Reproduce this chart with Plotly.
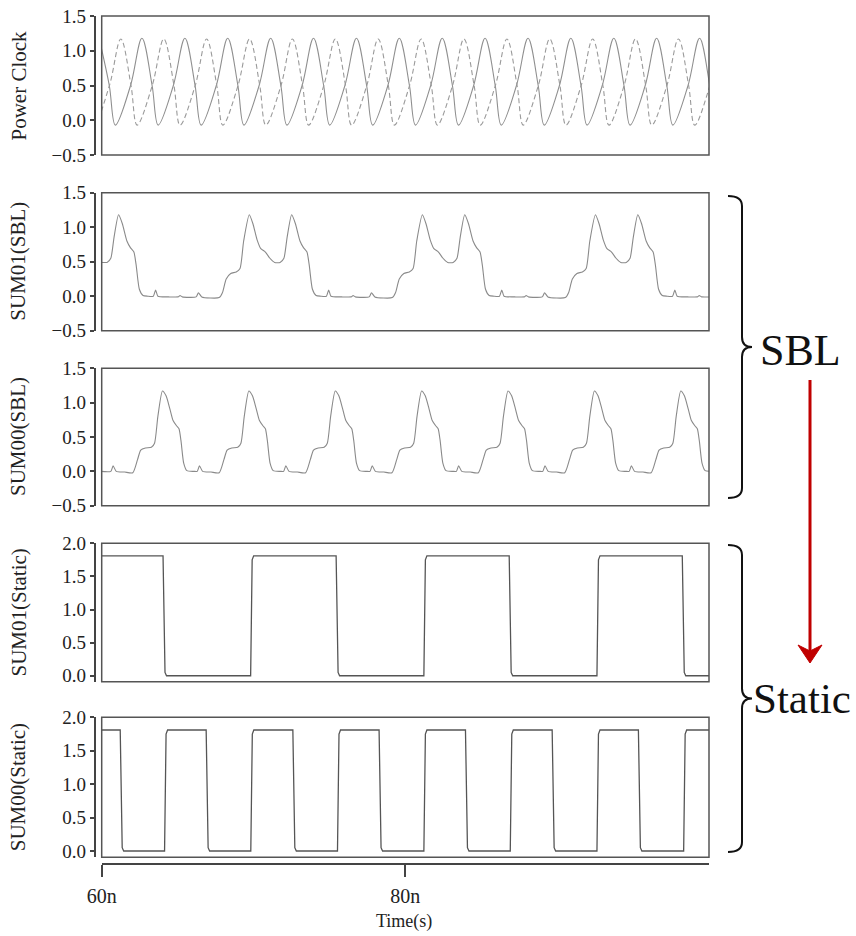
import plotly.graph_objects as go

# ---------------- data ----------------
X_TICK_VALS = [60, 80]
X_TICK_TEXT = ["60n", "80n"]
Y_TITLES = ["Power Clock", "SUM01(SBL)", "SUM00(SBL)", "SUM01(Static)", "SUM00(Static)"]

CLK_SOLID_T = [59.83, 60.50, 60.90, 61.90, 62.65, 63.32, 63.72, 64.72, 65.48, 66.15, 66.55, 67.55,
               68.30, 68.97, 69.37, 70.37, 71.13, 71.80, 72.20, 73.20, 73.95, 74.62, 75.02, 76.02,
               76.78, 77.45, 77.85, 78.85, 79.60, 80.27, 80.67, 81.67, 82.43, 83.10, 83.50, 84.50,
               85.25, 85.92, 86.32, 87.32, 88.08, 88.75, 89.15, 90.15, 90.90, 91.57, 91.97, 92.97,
               93.73, 94.40, 94.80, 95.80, 96.55, 97.22, 97.62, 98.62, 99.38, 100.05, 100.45]
CLK_SOLID_V = [1.18, 0.50, -0.07, 0.50, 1.18, 0.50, -0.07, 0.50, 1.18, 0.50, -0.07, 0.50,
               1.18, 0.50, -0.07, 0.50, 1.18, 0.50, -0.07, 0.50, 1.18, 0.50, -0.07, 0.50,
               1.18, 0.50, -0.07, 0.50, 1.18, 0.50, -0.07, 0.50, 1.18, 0.50, -0.07, 0.50,
               1.18, 0.50, -0.07, 0.50, 1.18, 0.50, -0.07, 0.50, 1.18, 0.50, -0.07, 0.50,
               1.18, 0.50, -0.07, 0.50, 1.18, 0.50, -0.07, 0.50, 1.18, 0.50, -0.07]

CLK_DASH_T = [58.44, 59.11, 59.51, 60.51, 61.26, 61.93, 62.33, 63.33, 64.09, 64.76, 65.16, 66.16,
              66.91, 67.58, 67.98, 68.98, 69.74, 70.41, 70.81, 71.81, 72.56, 73.23, 73.63, 74.63,
              75.39, 76.06, 76.46, 77.46, 78.21, 78.88, 79.28, 80.28, 81.04, 81.71, 82.11, 83.11,
              83.86, 84.53, 84.93, 85.93, 86.69, 87.36, 87.76, 88.76, 89.51, 90.18, 90.58, 91.58,
              92.34, 93.01, 93.41, 94.41, 95.16, 95.83, 96.23, 97.23, 97.99, 98.66, 99.06, 100.06,
              100.82]
CLK_DASH_V = [1.17, 0.50, -0.07, 0.50, 1.17, 0.50, -0.07, 0.50, 1.17, 0.50, -0.07, 0.50,
              1.17, 0.50, -0.07, 0.50, 1.17, 0.50, -0.07, 0.50, 1.17, 0.50, -0.07, 0.50,
              1.17, 0.50, -0.07, 0.50, 1.17, 0.50, -0.07, 0.50, 1.17, 0.50, -0.07, 0.50,
              1.17, 0.50, -0.07, 0.50, 1.17, 0.50, -0.07, 0.50, 1.17, 0.50, -0.07, 0.50,
              1.17, 0.50, -0.07, 0.50, 1.17, 0.50, -0.07, 0.50, 1.17, 0.50, -0.07, 0.50,
              1.17]

SUM01_SBL_T = [59.68, 59.99, 60.35, 60.60, 60.81, 61.11, 61.36, 61.66, 61.90, 62.12, 62.27, 62.48,
               62.72, 63.03, 63.40, 63.55, 63.70, 64.40, 65.04, 65.16, 65.31, 66.22, 66.37, 66.59,
               67.74, 67.95, 68.20, 68.50, 68.86, 69.11, 69.35, 69.72, 69.96, 70.23, 70.48, 70.78,
               71.08, 71.39, 71.75, 72.00, 72.21, 72.51, 72.76, 73.06, 73.30, 73.52, 73.67, 73.88,
               74.12, 74.43, 74.80, 74.95, 75.10, 75.80, 76.44, 76.56, 76.71, 77.62, 77.77, 77.99,
               79.14, 79.35, 79.60, 79.90, 80.26, 80.51, 80.75, 81.12, 81.36, 81.63, 81.88, 82.18,
               82.48, 82.79, 83.15, 83.40, 83.61, 83.91, 84.16, 84.46, 84.70, 84.92, 85.07, 85.28,
               85.52, 85.83, 86.20, 86.35, 86.50, 87.20, 87.84, 87.96, 88.11, 89.02, 89.17, 89.39,
               90.54, 90.75, 91.00, 91.30, 91.66, 91.91, 92.15, 92.52, 92.76, 93.03, 93.28, 93.58,
               93.88, 94.19, 94.55, 94.80, 95.01, 95.31, 95.56, 95.86, 96.10, 96.32, 96.47, 96.68,
               96.92, 97.23, 97.60, 97.75, 97.90, 98.60, 99.24, 99.36, 99.51, 100.20]
SUM01_SBL_V = [0.49, 0.49, 0.49, 0.55, 0.85, 1.18, 1.05, 0.80, 0.70, 0.64, 0.45, 0.10,
               0.01, 0.00, 0.00, 0.09, 0.00, -0.01, -0.01, 0.01, -0.01, -0.01, 0.05, -0.01,
               -0.02, 0.05, 0.25, 0.33, 0.35, 0.40, 0.80, 1.18, 1.05, 0.82, 0.69, 0.64,
               0.55, 0.49, 0.49, 0.55, 0.85, 1.18, 1.05, 0.80, 0.70, 0.64, 0.45, 0.10,
               0.01, 0.00, 0.00, 0.09, 0.00, -0.01, -0.01, 0.01, -0.01, -0.01, 0.05, -0.01,
               -0.02, 0.05, 0.25, 0.33, 0.35, 0.40, 0.80, 1.18, 1.05, 0.82, 0.69, 0.64,
               0.55, 0.49, 0.49, 0.55, 0.85, 1.18, 1.05, 0.80, 0.70, 0.64, 0.45, 0.10,
               0.01, 0.00, 0.00, 0.09, 0.00, -0.01, -0.01, 0.01, -0.01, -0.01, 0.05, -0.01,
               -0.02, 0.05, 0.25, 0.33, 0.35, 0.40, 0.80, 1.18, 1.05, 0.82, 0.69, 0.64,
               0.55, 0.49, 0.49, 0.55, 0.85, 1.18, 1.05, 0.80, 0.70, 0.64, 0.45, 0.10,
               0.01, 0.00, 0.00, 0.09, 0.00, -0.01, -0.01, 0.01, -0.01, -0.01]

SUM00_SBL_T = [59.90,
               60.60, 60.75, 60.96, 61.51, 62.05, 62.36, 62.57, 62.88, 63.27, 63.48, 63.70,
               64.00, 64.24, 64.49, 64.70, 64.94, 65.09, 65.22, 65.40, 65.61, 66.07,
               66.29, 66.44, 66.65, 67.20, 67.74, 68.05, 68.26, 68.57, 68.96, 69.17, 69.39,
               69.69, 69.93, 70.18, 70.39, 70.63, 70.78, 70.91, 71.09, 71.30, 71.76,
               71.98, 72.13, 72.34, 72.89, 73.43, 73.74, 73.95, 74.26, 74.65, 74.86, 75.08,
               75.38, 75.62, 75.87, 76.08, 76.32, 76.47, 76.60, 76.78, 76.99, 77.45,
               77.67, 77.82, 78.03, 78.58, 79.12, 79.43, 79.64, 79.95, 80.34, 80.55, 80.77,
               81.07, 81.31, 81.56, 81.77, 82.01, 82.16, 82.29, 82.47, 82.68, 83.14,
               83.36, 83.51, 83.72, 84.27, 84.81, 85.12, 85.33, 85.64, 86.03, 86.24, 86.46,
               86.76, 87.00, 87.25, 87.46, 87.70, 87.85, 87.98, 88.16, 88.37, 88.83,
               89.05, 89.20, 89.41, 89.96, 90.50, 90.81, 91.02, 91.33, 91.72, 91.93, 92.15,
               92.45, 92.69, 92.94, 93.15, 93.39, 93.54, 93.67, 93.85, 94.06, 94.52,
               94.74, 94.89, 95.10, 95.65, 96.19, 96.50, 96.71, 97.02, 97.41, 97.62, 97.84,
               98.14, 98.38, 98.63, 98.84, 99.08, 99.23, 99.36, 99.54, 99.75, 100.21]
SUM00_SBL_V = [0.00,
               0.00, 0.08, 0.00, -0.01, -0.02, 0.17, 0.31, 0.34, 0.35, 0.41, 0.80,
               1.17, 1.10, 0.91, 0.74, 0.66, 0.62, 0.45, 0.12, 0.01, 0.00,
               0.00, 0.08, 0.00, -0.01, -0.02, 0.17, 0.31, 0.34, 0.35, 0.41, 0.80,
               1.17, 1.10, 0.91, 0.74, 0.66, 0.62, 0.45, 0.12, 0.01, 0.00,
               0.00, 0.08, 0.00, -0.01, -0.02, 0.17, 0.31, 0.34, 0.35, 0.41, 0.80,
               1.17, 1.10, 0.91, 0.74, 0.66, 0.62, 0.45, 0.12, 0.01, 0.00,
               0.00, 0.08, 0.00, -0.01, -0.02, 0.17, 0.31, 0.34, 0.35, 0.41, 0.80,
               1.17, 1.10, 0.91, 0.74, 0.66, 0.62, 0.45, 0.12, 0.01, 0.00,
               0.00, 0.08, 0.00, -0.01, -0.02, 0.17, 0.31, 0.34, 0.35, 0.41, 0.80,
               1.17, 1.10, 0.91, 0.74, 0.66, 0.62, 0.45, 0.12, 0.01, 0.00,
               0.00, 0.08, 0.00, -0.01, -0.02, 0.17, 0.31, 0.34, 0.35, 0.41, 0.80,
               1.17, 1.10, 0.91, 0.74, 0.66, 0.62, 0.45, 0.12, 0.01, 0.00,
               0.00, 0.08, 0.00, -0.01, -0.02, 0.17, 0.31, 0.34, 0.35, 0.41, 0.80,
               1.17, 1.10, 0.91, 0.74, 0.66, 0.62, 0.45, 0.12, 0.01, 0.00]

SUM01_ST_T = [60.0, 64.04, 64.17, 64.27, 69.81, 69.91, 70.01, 75.44, 75.57, 75.67, 81.22, 81.32,
              81.42, 86.84, 86.97, 87.07, 92.62, 92.72, 92.82, 98.24, 98.37, 98.47, 100.0]
SUM01_ST_V = [1.81, 1.81, 0.05, 0.0, 0.0, 1.75, 1.81, 1.81, 0.05, 0.0, 0.0, 1.75,
              1.81, 1.81, 0.05, 0.0, 0.0, 1.75, 1.81, 1.81, 0.05, 0.0, 0.0]

SUM00_ST_T = [60.0, 61.22, 61.35, 61.45, 64.14, 64.24, 64.34, 66.88, 67.01, 67.11, 69.82, 69.92,
              70.02, 72.59, 72.72, 72.82, 75.53, 75.63, 75.73, 78.27, 78.40, 78.50, 81.22, 81.32,
              81.42, 83.96, 84.09, 84.19, 86.91, 87.01, 87.11, 89.67, 89.80, 89.90, 92.62, 92.72,
              92.82, 95.35, 95.48, 95.58, 98.33, 98.43, 98.53, 100.0]
SUM00_ST_V = [1.81, 1.81, 0.05, 0.0, 0.0, 1.75, 1.81, 1.81, 0.05, 0.0, 0.0, 1.75,
              1.81, 1.81, 0.05, 0.0, 0.0, 1.75, 1.81, 1.81, 0.05, 0.0, 0.0, 1.75,
              1.81, 1.81, 0.05, 0.0, 0.0, 1.75, 1.81, 1.81, 0.05, 0.0, 0.0, 1.75,
              1.81, 1.81, 0.05, 0.0, 0.0, 1.75, 1.81, 1.81]

# ---------------- layout helpers (pixel -> paper) ----------------
W, H = 856, 936
def px(x):
    return x / W
def py(y):
    return 1 - y / H

X_LEFT, X_RIGHT = 101.7, 709.0
PANELS = [(16.0, 155.0, [-0.5, 1.5]),
          (192.7, 330.7, [-0.5, 1.5]),
          (368.3, 505.7, [-0.5, 1.5]),
          (543.3, 681.7, [-0.09, 2.0]),
          (717.3, 857.3, [-0.094, 2.0])]

SERIF = "Liberation Serif, Times New Roman, serif"
fig = go.Figure()

SBL_COLOR = "#8a8a8a"
ST_COLOR = "#555555"

fig.add_trace(go.Scatter(x=CLK_SOLID_T, y=CLK_SOLID_V, mode="lines", yaxis="y",
                         line=dict(color="#8f8f8f", width=1.1, shape="spline", smoothing=1.0)))
fig.add_trace(go.Scatter(x=CLK_DASH_T, y=CLK_DASH_V, mode="lines", yaxis="y",
                         line=dict(color="#9a9a9a", width=1.1, dash="5px,3px", shape="spline", smoothing=1.0)))
fig.add_trace(go.Scatter(x=SUM01_SBL_T, y=SUM01_SBL_V, mode="lines", yaxis="y2",
                         line=dict(color=SBL_COLOR, width=1.1, shape="spline", smoothing=0.6)))
fig.add_trace(go.Scatter(x=SUM00_SBL_T, y=SUM00_SBL_V, mode="lines", yaxis="y3",
                         line=dict(color=SBL_COLOR, width=1.1, shape="spline", smoothing=0.6)))
fig.add_trace(go.Scatter(x=SUM01_ST_T, y=SUM01_ST_V, mode="lines", yaxis="y4",
                         line=dict(color=ST_COLOR, width=1.3)))
fig.add_trace(go.Scatter(x=SUM00_ST_T, y=SUM00_ST_V, mode="lines", yaxis="y5",
                         line=dict(color=ST_COLOR, width=1.3)))

layout = dict(
    width=W, height=H, margin=dict(l=0, r=0, t=0, b=0, pad=0, autoexpand=False),
    paper_bgcolor="white", plot_bgcolor="white", showlegend=False,
    xaxis=dict(domain=[px(X_LEFT), px(X_RIGHT)], range=[60, 100], anchor="free",
               position=py(864), showline=True, linecolor="#444", linewidth=1.5,
               ticks="outside", ticklen=12, tickwidth=1.5, tickcolor="#444",
               ticklabelstandoff=2, automargin=False,
               tickvals=X_TICK_VALS, ticktext=X_TICK_TEXT, showgrid=False, zeroline=False,
               tickfont=dict(family=SERIF, size=20, color="#222")),
)
shapes = []
annotations = []
for i, (top, bot, rng) in enumerate(PANELS):
    name = "yaxis" if i == 0 else f"yaxis{i+1}"
    tv = [-0.5, 0.0, 0.5, 1.0, 1.5] if rng[1] < 1.9 else [0.0, 0.5, 1.0, 1.5, 2.0]
    layout[name] = dict(domain=[py(bot), py(top)], range=rng, anchor="free", position=px(94.5),
                        showline=True, linecolor="#444", linewidth=1.5, ticks="outside",
                        ticklen=4, tickwidth=1.5, tickcolor="#444", tickvals=tv,
                        tickformat=".1f", showgrid=False, zeroline=False, automargin=False,
                        tickfont=dict(family=SERIF, size=19, color="#222"))
    shapes.append(dict(type="rect", xref="paper", yref="paper", x0=px(X_LEFT), x1=px(X_RIGHT),
                       y0=py(bot), y1=py(top), line=dict(color="#555", width=1.5)))
    annotations.append(dict(text=Y_TITLES[i], xref="paper", yref="paper", x=px(18),
                            y=py((top + bot) / 2), textangle=-90, showarrow=False,
                            xanchor="center", yanchor="middle",
                            font=dict(family=SERIF, size=21, color="#222")))

annotations.append(dict(text="Time(s)", xref="paper", yref="paper", x=px(404), y=py(921),
                        showarrow=False, xanchor="center", yanchor="middle",
                        font=dict(family=SERIF, size=18, color="#222")))

def brace(top, bot, xa=728, xv=742, xn=752):
    mid = (top + bot) / 2
    pts = (f"M {px(xa)},{py(top)} Q {px(xv)},{py(top)} {px(xv)},{py(top+10)} "
           f"L {px(xv)},{py(mid-10)} Q {px(xv)},{py(mid)} {px(xn)},{py(mid)} "
           f"Q {px(xv)},{py(mid)} {px(xv)},{py(mid+10)} "
           f"L {px(xv)},{py(bot-10)} Q {px(xv)},{py(bot)} {px(xa)},{py(bot)}")
    return dict(type="path", xref="paper", yref="paper", path=pts,
                line=dict(color="#111", width=2))

shapes.append(brace(196, 498))
shapes.append(brace(545, 852))

# red arrow
shapes.append(dict(type="line", xref="paper", yref="paper", x0=px(810), x1=px(810),
                   y0=py(380), y1=py(652), line=dict(color="#c00000", width=3)))
shapes.append(dict(type="path", xref="paper", yref="paper",
                   path=f"M {px(798)},{py(645)} L {px(810)},{py(663)} L {px(822)},{py(645)} L {px(810)},{py(651)} Z",
                   fillcolor="#c00000", line=dict(color="#c00000", width=1)))

annotations.append(dict(text="SBL", xref="paper", yref="paper", x=px(800), y=py(350),
                        showarrow=False, xanchor="center", yanchor="middle",
                        font=dict(family=SERIF, size=44, color="#111")))
annotations.append(dict(text="Static", xref="paper", yref="paper", x=px(802), y=py(698),
                        showarrow=False, xanchor="center", yanchor="middle",
                        font=dict(family=SERIF, size=43, color="#111")))

layout["shapes"] = shapes
layout["annotations"] = annotations
fig.update_layout(**layout)
fig.write_html("out.html")
